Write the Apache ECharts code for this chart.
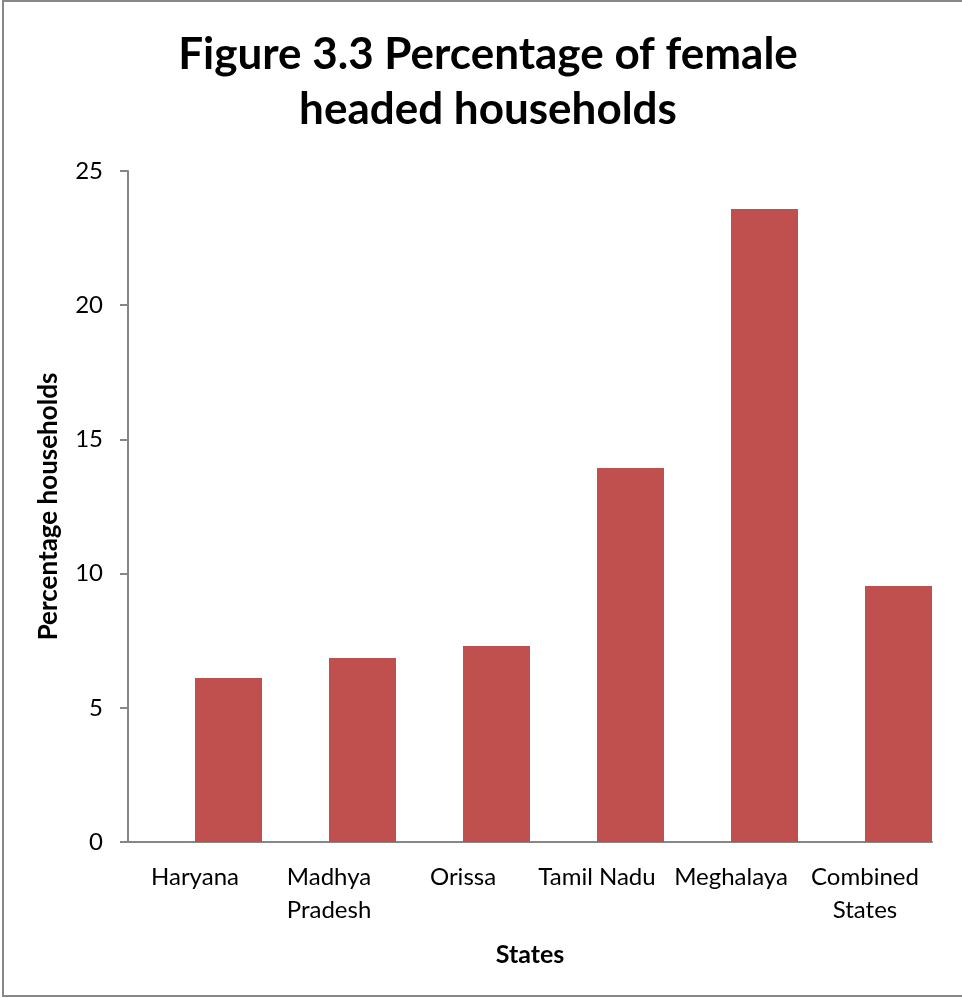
<!DOCTYPE html>
<html>
<head>
<meta charset="utf-8">
<script src="https://cdn.jsdelivr.net/npm/echarts@6/dist/echarts.min.js"></script>
<style>
  html, body { margin: 0; padding: 0; background: #fff; }
  #chart { width: 962px; height: 998px; }
</style>
</head>
<body>
<div id="chart"></div>
<script>
// Female headed households by state (percent)
const states = ['Haryana', 'Madhya\nPradesh', 'Orissa', 'Tamil Nadu', 'Meghalaya', 'Combined\nStates'];
const femaleHeadedPct = [6.11, 6.86, 7.30, 13.93, 23.58, 9.54];
// Empty companion series that occupies the left half of each category slot
const emptySlot = [null, null, null, null, null, null];
const yTicks = { min: 0, max: 25, step: 5 };

const FONT = 'Lato, "Open Sans", sans-serif';
const AXIS_GREY = '#868686';

const chart = echarts.init(document.getElementById('chart'), null, { renderer: 'canvas' });

chart.setOption({
  backgroundColor: '#ffffff',
  animation: false,
  title: {
    text: 'Figure 3.3 Percentage of female\nheaded households',
    left: 483,
    textAlign: 'center',
    top: 22,
    textStyle: {
      fontFamily: FONT,
      fontWeight: 'bold',
      fontSize: 44,
      lineHeight: 55,
      color: '#000'
    }
  },
  grid: { left: 128, right: 30, top: 171, bottom: 156, containLabel: false },
  xAxis: {
    type: 'category',
    data: states,
    name: 'States',
    nameLocation: 'middle',
    nameGap: 100,
    nameTextStyle: { fontFamily: FONT, fontWeight: 'bold', fontSize: 25, color: '#000' },
    axisLine: { show: true, lineStyle: { color: AXIS_GREY, width: 2 } },
    axisTick: { show: false },
    axisLabel: {
      fontFamily: FONT,
      fontSize: 24,
      color: '#000',
      margin: 19,
      lineHeight: 33,
      interval: 0
    }
  },
  yAxis: {
    type: 'value',
    min: yTicks.min,
    max: yTicks.max,
    interval: yTicks.step,
    name: 'Percentage households',
    nameLocation: 'middle',
    nameGap: 66,
    nameRotate: 90,
    nameTextStyle: { fontFamily: FONT, fontWeight: 'bold', fontSize: 26, color: '#000' },
    axisLine: { show: true, lineStyle: { color: AXIS_GREY, width: 2 } },
    axisTick: { show: true, inside: false, length: 8, lineStyle: { color: AXIS_GREY, width: 2 } },
    axisLabel: { fontFamily: FONT, fontSize: 24, color: '#000', margin: 25 },
    splitLine: { show: false }
  },
  series: [
    {
      name: 'spacer',
      type: 'bar',
      data: emptySlot,
      barGap: '0%',
      barCategoryGap: '0%',
      silent: true
    },
    {
      name: 'Percentage households',
      type: 'bar',
      data: femaleHeadedPct,
      barGap: '0%',
      barCategoryGap: '0%',
      itemStyle: { color: '#C0504D' }
    }
  ],
  graphic: [
    {
      type: 'polyline',
      shape: { points: [[964, 1], [3, 1], [3, 996], [964, 996]] },
      style: { stroke: '#888888', lineWidth: 2, fill: null },
      silent: true
    }
  ]
});
</script>
</body>
</html>
